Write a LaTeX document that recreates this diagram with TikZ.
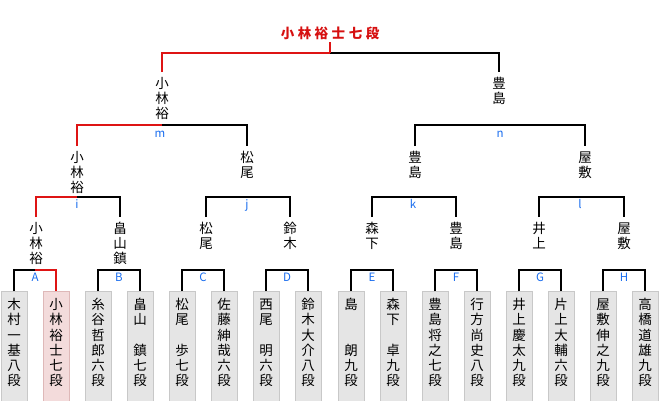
\documentclass[tikz,border=0pt]{standalone}
\usepackage{fontspec}
\newfontfamily\jp{Noto Sans CJK JP}
\definecolor{winred}{RGB}{222,20,20}
\definecolor{titlered}{RGB}{214,16,16}
\definecolor{lblblue}{RGB}{24,108,238}
\definecolor{boxfill}{RGB}{229,229,229}
\definecolor{boxline}{RGB}{200,200,200}
\definecolor{pinkfill}{RGB}{243,219,219}
\definecolor{pinkline}{RGB}{222,184,184}
\newcommand{\tp}{\rule{0pt}{12.5pt}}
\begin{document}
\begin{tikzpicture}[x=1pt,y=-1pt,
  ln/.style={line width=1.1pt,black},
  wn/.style={line width=1.1pt,winred},
  leafbox/.style={draw=boxline,fill=boxfill,line width=1pt,minimum width=26pt,minimum height=112pt,inner sep=0pt,anchor=north},
  winbox/.style={leafbox,draw=pinkline,fill=pinkfill},
  leaftxt/.style={font=\jp\fontsize{13.5}{15.2}\selectfont,align=center,inner sep=0pt,anchor=north},
  nm/.style={font=\jp\fontsize{13.5}{15.2}\selectfont,align=center,inner sep=0pt,outer ysep=4pt,anchor=north},
  lbl/.style={font=\jp\fontsize{11.5}{13}\selectfont,text=lblblue,inner sep=0pt,anchor=base}]
\useasboundingbox (0,0) rectangle (660,400);

% champion
\node[font=\jp\bfseries\fontsize{13.5}{15}\selectfont,text=titlered,inner sep=0pt,text height=12pt,text depth=2pt,outer ysep=2pt,anchor=base] (champ) at (330,38)
  {小\hspace{3.5pt}林\hspace{3.5pt}裕\hspace{3.5pt}士\hspace{3.5pt}七\hspace{3.5pt}段};

% leaf boxes
\node[leafbox] (b1) at (14,291) {};
\node[winbox]  (b2) at (56,291) {};
\node[leafbox] (b3) at (98,291) {};
\node[leafbox] (b4) at (140,291) {};
\node[leafbox] (b5) at (182,291) {};
\node[leafbox] (b6) at (224,291) {};
\node[leafbox] (b7) at (266,291) {};
\node[leafbox] (b8) at (308,291) {};
\node[leafbox] (b9) at (351,291) {};
\node[leafbox] (b10) at (393,291) {};
\node[leafbox] (b11) at (435,291) {};
\node[leafbox] (b12) at (477,291) {};
\node[leafbox] (b13) at (519,291) {};
\node[leafbox] (b14) at (561,291) {};
\node[leafbox] (b15) at (603,291) {};
\node[leafbox] (b16) at (645,291) {};

% leaf texts
\node[leaftxt] (t1) at (14,297) {\tp 木\\村\\一\\基\\八\\段};
\node[leaftxt] (t2) at (56,297) {\tp 小\\林\\裕\\士\\七\\段};
\node[leaftxt] (t3) at (98,297) {\tp 糸\\谷\\哲\\郎\\六\\段};
\node[leaftxt] (t4) at (140,297) {\tp 畠\\山\\　\\鎮\\七\\段};
\node[leaftxt] (t5) at (182,297) {\tp 松\\尾\\　\\歩\\七\\段};
\node[leaftxt] (t6) at (224,297) {\tp 佐\\藤\\紳\\哉\\六\\段};
\node[leaftxt] (t7) at (266,297) {\tp 西\\尾\\　\\明\\六\\段};
\node[leaftxt] (t8) at (308,297) {\tp 鈴\\木\\大\\介\\八\\段};
\node[leaftxt] (t9) at (351,297) {\tp 島\\　\\　\\朗\\九\\段};
\node[leaftxt] (t10) at (393,297) {\tp 森\\下\\　\\卓\\九\\段};
\node[leaftxt] (t11) at (435,297) {\tp 豊\\島\\将\\之\\七\\段};
\node[leaftxt] (t12) at (477,297) {\tp 行\\方\\尚\\史\\八\\段};
\node[leaftxt] (t13) at (519,297) {\tp 井\\上\\慶\\太\\九\\段};
\node[leaftxt] (t14) at (561,297) {\tp 片\\上\\大\\輔\\六\\段};
\node[leaftxt] (t15) at (603,297) {\tp 屋\\敷\\伸\\之\\九\\段};
\node[leaftxt] (t16) at (645,297) {\tp 高\\橋\\道\\雄\\九\\段};

% round-2 names
\node[nm] (p1) at (36,217) {\tp 小\\林\\裕};
\node[nm] (p2) at (120,217) {\tp 畠\\山\\鎮};
\node[nm] (p3) at (206,217) {\tp 松\\尾};
\node[nm] (p4) at (290,217) {\tp 鈴\\木};
\node[nm] (p5) at (372,217) {\tp 森\\下};
\node[nm] (p6) at (456,217) {\tp 豊\\島};
\node[nm] (p7) at (539,217) {\tp 井\\上};
\node[nm] (p8) at (624,217) {\tp 屋\\敷};

% round-3 names
\node[nm] (q1) at (77,146) {\tp 小\\林\\裕};
\node[nm] (q2) at (247,146) {\tp 松\\尾};
\node[nm] (q3) at (415,146) {\tp 豊\\島};
\node[nm] (q4) at (585,146) {\tp 屋\\敷};

% round-4 names
\node[nm] (r1) at (162,72) {\tp 小\\林\\裕};
\node[nm] (r2) at (499,72) {\tp 豊\\島};

% leaf brackets
\coordinate (mA) at (35,270);
\coordinate (mB) at (119,270);
\coordinate (mC) at (203,270);
\coordinate (mD) at (287,270);
\coordinate (mE) at (372,270);
\coordinate (mF) at (456,270);
\coordinate (mG) at (540,270);
\coordinate (mH) at (624,270);
\draw[ln] (b1.north) |- (mA);
\draw[wn] (mA) -| (b2.north);
\draw[ln] (b3.north) |- (mB) -| (b4.north);
\draw[ln] (b5.north) |- (mC) -| (b6.north);
\draw[ln] (b7.north) |- (mD) -| (b8.north);
\draw[ln] (b9.north) |- (mE) -| (b10.north);
\draw[ln] (b11.north) |- (mF) -| (b12.north);
\draw[ln] (b13.north) |- (mG) -| (b14.north);
\draw[ln] (b15.north) |- (mH) -| (b16.north);

% round-2 brackets
\coordinate (mi) at (77,197);
\coordinate (mj) at (247,197);
\coordinate (mk) at (413,197);
\coordinate (ml) at (580,197);
\draw[wn] (p1.north) |- (mi);
\draw[ln] (mi) -| (p2.north);
\draw[ln] (p3.north) |- (mj) -| (p4.north);
\draw[ln] (p5.north) |- (mk) -| (p6.north);
\draw[ln] (p7.north) |- (ml) -| (p8.north);

% round-3 brackets
\coordinate (mm) at (162,125);
\coordinate (mn) at (500,125);
\draw[wn] (q1.north) |- (mm);
\draw[ln] (mm) -| (q2.north);
\draw[ln] (q3.north) |- (mn) -| (q4.north);

% final bracket
\coordinate (mt) at (330,53);
\draw[wn] (r1.north) |- (mt);
\draw[ln] (mt) -| (r2.north);
\draw[wn] (champ.south) -- (mt);

% labels
\node[lbl] (lA) at (35,281) {A};
\node[lbl] (lB) at (119,281) {B};
\node[lbl] (lC) at (203,281) {C};
\node[lbl] (lD) at (287,281) {D};
\node[lbl] (lE) at (372,281) {E};
\node[lbl] (lF) at (456,281) {F};
\node[lbl] (lG) at (540,281) {G};
\node[lbl] (lH) at (624,281) {H};
\node[lbl] (li) at (77,208) {i};
\node[lbl] (lj) at (247,208) {j};
\node[lbl] (lk) at (413,208) {k};
\node[lbl] (ll) at (580,208) {l};
\node[lbl] (lm) at (160,137) {m};
\node[lbl] (lnn) at (500,137) {n};
\end{tikzpicture}
\end{document}
